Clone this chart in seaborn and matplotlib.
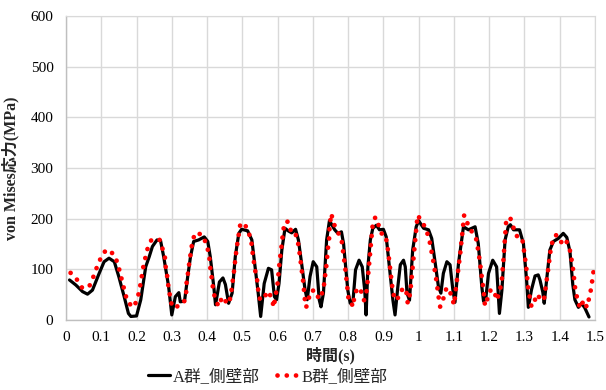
import matplotlib
matplotlib.use("Agg")
import matplotlib.pyplot as plt
import seaborn as sns
import pandas as pd

# ---- data ----
t_a = [0.010, 0.028, 0.047, 0.061, 0.075, 0.094, 0.108, 0.122, 0.137, 0.150, 0.165, 0.177, 0.184, 0.200,
       0.212, 0.226, 0.236, 0.245, 0.258, 0.268, 0.277, 0.291, 0.300, 0.310, 0.320, 0.324, 0.336, 0.345,
       0.353, 0.362, 0.376, 0.392, 0.402, 0.409, 0.419, 0.424, 0.435, 0.445, 0.452, 0.461, 0.471, 0.480,
       0.490, 0.498, 0.515, 0.527, 0.536, 0.545, 0.552, 0.562, 0.574, 0.583, 0.591, 0.597, 0.604, 0.612,
       0.621, 0.630, 0.640, 0.651, 0.659, 0.668, 0.678, 0.684, 0.692, 0.701, 0.711, 0.718, 0.723, 0.730,
       0.739, 0.747, 0.762, 0.771, 0.781, 0.787, 0.793, 0.799, 0.806, 0.814, 0.821, 0.831, 0.840, 0.847,
       0.851, 0.856, 0.863, 0.870, 0.880, 0.889, 0.900, 0.908, 0.917, 0.927, 0.933, 0.941, 0.948, 0.957,
       0.962, 0.967, 0.974, 0.983, 0.993, 1.000, 1.014, 1.028, 1.037, 1.047, 1.056, 1.063, 1.070, 1.080,
       1.089, 1.097, 1.103, 1.113, 1.127, 1.141, 1.160, 1.169, 1.179, 1.184, 1.191, 1.198, 1.210, 1.221,
       1.229, 1.236, 1.245, 1.254, 1.260, 1.269, 1.286, 1.297, 1.306, 1.311, 1.320, 1.330, 1.339, 1.344,
       1.352, 1.356, 1.363, 1.372, 1.382, 1.396, 1.410, 1.420, 1.429, 1.437, 1.443, 1.453, 1.462, 1.471,
       1.477, 1.483]
v_a = [79, 69, 56, 51, 59, 92, 115, 122, 115, 85, 46, 13, 7, 8,
       40, 105, 125, 145, 158, 157, 125, 66, 10, 46, 54, 36, 37, 85,
       125, 155, 158, 164, 155, 125, 66, 30, 75, 83, 70, 33, 53, 125,
       171, 179, 176, 158, 105, 53, 7, 72, 102, 99, 46, 40, 72, 138,
       181, 176, 172, 179, 158, 112, 59, 40, 86, 115, 105, 40, 26, 53,
       158, 196, 178, 171, 174, 151, 105, 59, 33, 39, 99, 118, 105, 59,
       10, 105, 158, 181, 187, 178, 179, 164, 105, 39, 10, 66, 109, 118,
       105, 53, 39, 138, 184, 196, 181, 178, 161, 112, 66, 53, 92, 115,
       109, 59, 35, 112, 184, 178, 184, 151, 66, 37, 46, 92, 118, 105,
       13, 59, 158, 184, 188, 178, 178, 151, 79, 25, 60, 87, 89, 79,
       55, 33, 80, 138, 155, 161, 171, 163, 135, 70, 40, 25, 33, 24,
       15, 6]

t_b = [0.013, 0.032, 0.047, 0.067, 0.078, 0.088, 0.099, 0.114, 0.136, 0.147, 0.154, 0.161, 0.167, 0.175,
       0.192, 0.203, 0.209, 0.214, 0.218, 0.224, 0.231, 0.242, 0.265, 0.274, 0.281, 0.283, 0.288, 0.291,
       0.296, 0.301, 0.324, 0.335, 0.341, 0.342, 0.346, 0.350, 0.354, 0.358, 0.366, 0.384, 0.398, 0.404,
       0.408, 0.410, 0.415, 0.417, 0.425, 0.433, 0.443, 0.457, 0.462, 0.468, 0.471, 0.475, 0.478, 0.481,
       0.486, 0.494, 0.505, 0.517, 0.525, 0.528, 0.532, 0.536, 0.542, 0.545, 0.550, 0.560, 0.571, 0.583,
       0.589, 0.597, 0.601, 0.603, 0.606, 0.609, 0.613, 0.615, 0.621, 0.630, 0.640, 0.649, 0.656, 0.660,
       0.664, 0.667, 0.671, 0.674, 0.676, 0.681, 0.695, 0.708, 0.717, 0.730, 0.733, 0.737, 0.740, 0.742,
       0.746, 0.747, 0.752, 0.760, 0.771, 0.782, 0.792, 0.801, 0.807, 0.813, 0.818, 0.826, 0.836, 0.845,
       0.853, 0.869, 0.877, 0.886, 0.894, 0.906, 0.913, 0.925, 0.932, 0.936, 0.946, 0.955, 0.965, 0.969,
       0.976, 0.997, 1.011, 1.020, 1.030, 1.041, 1.050, 1.057, 1.061, 1.072, 1.079, 1.088, 1.096, 1.101,
       1.104, 1.111, 1.118, 1.124, 1.129, 1.137, 1.143, 1.155, 1.164, 1.173, 1.180, 1.184, 1.188, 1.197,
       1.204, 1.214, 1.221, 1.225, 1.235, 1.240, 1.244, 1.248, 1.259, 1.268, 1.277, 1.293, 1.297, 1.305,
       1.310, 1.315, 1.320, 1.326, 1.336, 1.347, 1.355, 1.359, 1.367, 1.374, 1.380, 1.389, 1.403, 1.416,
       1.430, 1.438, 1.444, 1.450, 1.458, 1.468, 1.477, 1.484, 1.489, 1.497]
v_b = [93, 79, 62, 68, 86, 105, 123, 139, 130, 111, 91, 72, 54, 35,
       25, 43, 62, 82, 101, 120, 140, 158, 159, 140, 122, 102, 82, 62,
       43, 25, 28, 36, 56, 75, 93, 115, 134, 153, 172, 169, 151, 133,
       115, 95, 77, 58, 38, 27, 46, 33, 32, 51, 69, 87, 107, 126,
       151, 188, 192, 174, 158, 138, 118, 99, 79, 59, 41, 40, 57, 45,
       25, 59, 77, 97, 116, 135, 155, 174, 194, 194, 171, 172, 161, 143,
       124, 105, 85, 66, 46, 25, 58, 58, 41, 58, 79, 99, 118, 138,
       159, 179, 210, 189, 174, 155, 101, 42, 41, 26, 46, 64, 58, 39,
       59, 184, 203, 188, 171, 168, 138, 66, 39, 41, 46, 64, 56, 33,
       53, 207, 192, 181, 159, 118, 79, 43, 26, 46, 64, 58, 39, 30,
       53, 92, 132, 174, 207, 194, 181, 171, 158, 118, 79, 59, 28, 46,
       59, 59, 39, 46, 72, 115, 155, 194, 203, 184, 166, 163, 145, 105,
       66, 45, 26, 33, 51, 39, 39, 59, 99, 137, 157, 168, 153, 161,
       135, 99, 61, 41, 23, 39, 25, 45, 62, 102]

x_ticks = [0, 0.1, 0.2, 0.3, 0.4, 0.5, 0.6, 0.7, 0.8, 0.9, 1.0, 1.1, 1.2, 1.3, 1.4, 1.5]
x_tick_labels = ["0", "0.1", "0.2", "0.3", "0.4", "0.5", "0.6", "0.7", "0.8", "0.9", "1",
                 "1.1", "1.2", "1.3", "1.4", "1.5"]
y_ticks = [0, 100, 200, 300, 400, 500, 600]
series_names = ["A群_側壁部", "B群_側壁部"]

# ---- style ----
sns.set_style("white")
plt.rcParams['font.family'] = ['Liberation Serif', 'Noto Sans CJK JP', 'DejaVu Sans']

fig = plt.figure(figsize=(6.06, 3.90), dpi=100)
ax = fig.add_axes([66 / 606, 1 - 320 / 390, (595 - 66) / 606, (320 - 16) / 390])

df_a = pd.DataFrame({"t": t_a, "v": v_a})
df_b = pd.DataFrame({"t": t_b, "v": v_b})

sns.lineplot(data=df_a, x="t", y="v", ax=ax, color="black", linewidth=2.3,
             sort=False, estimator=None, label=series_names[0], zorder=3)
sns.lineplot(data=df_b, x="t", y="v", ax=ax, color="#ff0000", linewidth=3.4,
             sort=False, estimator=None, label=series_names[1], zorder=4,
             linestyle=(0, (0.01, 1.95)), dash_capstyle="round")

ax.set_xlim(0, 1.5)
ax.set_ylim(0, 600)
ax.set_xticks(x_ticks)
ax.set_xticklabels(x_tick_labels)
ax.set_yticks(y_ticks)
ax.grid(True, color="#d9d9d9", linewidth=1.0)
ax.set_axisbelow(True)
for side in ["top", "right"]:
    ax.spines[side].set_color("#d9d9d9")
for side in ["left", "bottom"]:
    ax.spines[side].set_color("#bfbfbf")
    ax.spines[side].set_linewidth(1.0)
ax.tick_params(axis="both", length=0, labelsize=11, colors="black")
ax.tick_params(axis="x", pad=8)
ax.tick_params(axis="y", pad=9)

ax.set_xlabel("時間(s)", fontsize=11.5, fontweight="bold", labelpad=2)
ax.set_ylabel("von Mises応力(MPa)", fontsize=11.5, fontweight="bold", labelpad=8)

ax.legend_.remove()
handles, labels = ax.get_legend_handles_labels()
fig.legend(handles, labels, loc="center", bbox_to_anchor=(268 / 606, 1 - 377 / 390),
           ncol=2, frameon=False, fontsize=12, handlelength=1.3, handletextpad=0.2,
           columnspacing=1.0)

fig.savefig("out.png", dpi=100)
